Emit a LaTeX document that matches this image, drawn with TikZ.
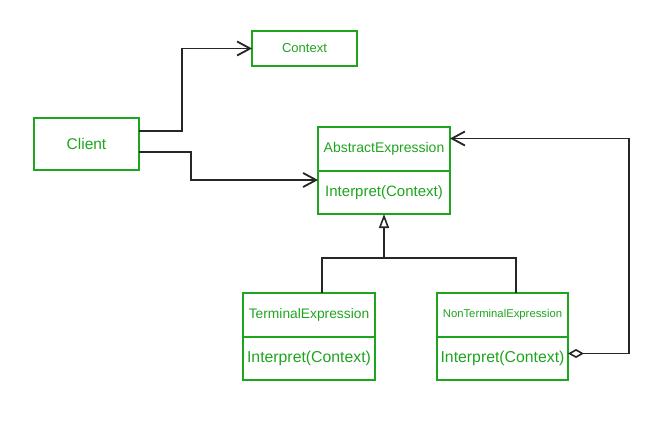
\documentclass[tikz,border=0pt]{standalone}
\usepackage{fontspec}
\setmainfont{Liberation Sans}
\usetikzlibrary{arrows.meta}
\definecolor{umlgreen}{RGB}{30,165,30}
\newcommand{\fsz}[1]{\fontsize{#1}{#1}\selectfont}
\tikzset{
	box/.style={draw=umlgreen,text=umlgreen,line width=1.7pt,outer sep=0pt,inner sep=0pt},
	part/.style={box,minimum width=132,minimum height=44},
	link/.style={line width=1.8pt,black!85},
	assoc/.style={link,-{Straight Barb[length=13pt,width=14pt,line width=1.8pt]}},
	inherit/.style={link,-{Triangle[open,length=14pt,width=10pt,line width=1.6pt]}},
	aggr/.style={link,{Diamond[open,length=16pt,width=9pt,line width=1.6pt]}-{Straight Barb[length=13pt,width=14pt,line width=1.8pt]}}
}
\begin{document}
\begin{tikzpicture}[x=1pt,y=-1pt]
		\useasboundingbox (0,0) rectangle (655,431);
		\node[box,minimum width=105,minimum height=35,font=\fsz{13}] (context) at (304.5,48.5) {Context};
		\node[box,minimum width=105,minimum height=52,font=\fsz{15.5}] (client) at (86.5,144) {Client};
		\node[part,font=\fsz{14}] (abstract) at (384,149) {AbstractExpression};
		\node[part,minimum height=43,anchor=north,font=\fsz{15}] (abstractop) at (abstract.south) {Interpret(Context)};
		\node[part,font=\fsz{13.8}] (terminal) at (309,315) {TerminalExpression};
		\node[part,minimum height=43,anchor=north,font=\fsz{15.8}] (terminalop) at (terminal.south) {Interpret(Context)};
		\node[part,minimum width=131,font=\fsz{11.3}] (nonterminal) at (502.5,315) {NonTerminalExpression};
		\node[part,minimum width=131,minimum height=43,anchor=north,font=\fsz{15.8}] (nonterminalop) at (nonterminal.south) {Interpret(Context)};
		\coordinate (fork) at (384,258);
		\draw[assoc] ([yshift=13pt]client.east) -- ++(43,0) |- (context.west);
		\draw[assoc] ([yshift=-8pt]client.east) -- ++(52,0) |- ([yshift=12.5pt]abstractop.west);
		\draw[link] ([xshift=13pt]terminal.north) -- ++(0,-35) -| ([xshift=13.5pt]nonterminal.north);
		\draw[inherit] (fork) -- (abstractop.south);
		\draw[aggr] ([yshift=5pt]nonterminalop.east) -- ++(61,0) |- ([yshift=10.5pt]abstract.east);
	\end{tikzpicture}
\end{document}
